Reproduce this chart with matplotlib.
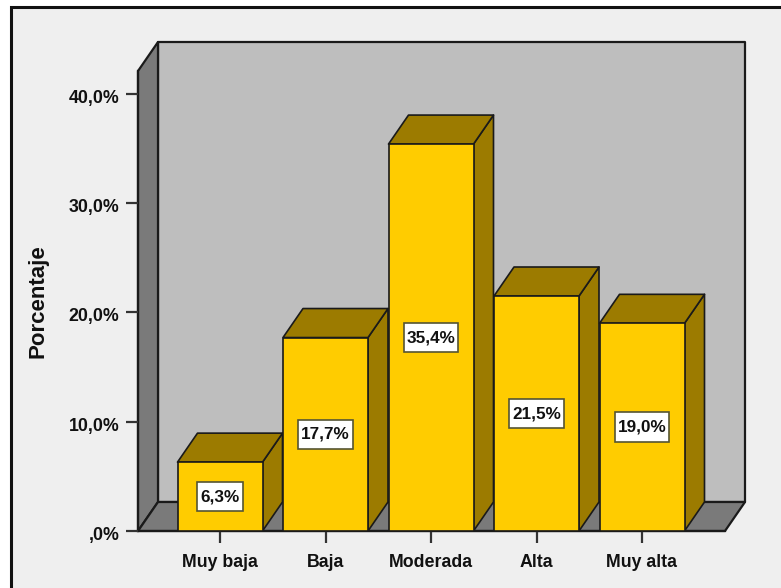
"""Bar chart with a fake 3D box, SPSS style: percentage per category."""
import matplotlib
matplotlib.use("Agg")
import matplotlib.pyplot as plt
from matplotlib.patches import Polygon, Rectangle
from matplotlib.path import Path
from matplotlib.transforms import ScaledTranslation

CATEGORIES = ["Muy baja", "Baja", "Moderada", "Alta", "Muy alta"]
PERCENTAGES = [6.3, 17.7, 35.4, 21.5, 19.0]
VALUE_LABELS = ["6,3%", "17,7%", "35,4%", "21,5%", "19,0%"]
Y_TICKS = [0, 10, 20, 30, 40]
Y_TICK_LABELS = [",0%", "10,0%", "20,0%", "30,0%", "40,0%"]

W, H = 781, 588
PLOT_LEFT, PLOT_RIGHT = 138, 725
PLOT_BOTTOM, PLOT_TOP = 531, 71
PX_PER_CAT = 105.5
PX_PER_PCT = 10.93
FIRST_CENTER = 220

BAR_W = 85 / PX_PER_CAT
DX = 20 / PX_PER_CAT
DY = 29 / PX_PER_PCT

EDGE = "#1a1a1a"
BAR_FRONT = "#ffcc00"
BAR_SIDE = "#9c7b00"
WALL = "#bebebe"
FLOOR = "#7a7a7a"
PANEL = "#efefef"

plt.rcParams["font.family"] = ["Liberation Sans", "DejaVu Sans"]

fig = plt.figure(figsize=(W / 100, H / 100), dpi=100, facecolor="white")
# panel runs off the right and bottom edges of the picture
fig.patches.append(Rectangle((10.5 / W, -0.02), 0.99, (H - 6.5) / H + 0.02,
                             transform=fig.transFigure, facecolor=PANEL,
                             edgecolor="#111111", linewidth=2.2, zorder=-1))

ax = fig.add_axes([PLOT_LEFT / W, 1 - PLOT_BOTTOM / H,
                   (PLOT_RIGHT - PLOT_LEFT) / W, (PLOT_BOTTOM - PLOT_TOP) / H])
ax.patch.set_visible(False)
ax.set_xlim((PLOT_LEFT - FIRST_CENTER) / PX_PER_CAT, (PLOT_RIGHT - FIRST_CENTER) / PX_PER_CAT)
ax.set_ylim(0, (PLOT_BOTTOM - PLOT_TOP) / PX_PER_PCT)
x0, x1 = ax.get_xlim()
y0, y1 = ax.get_ylim()


def poly(points, color, z, lw=1.6, edge=EDGE):
    ax.add_patch(Polygon(points, closed=True, facecolor=color, edgecolor=edge,
                         linewidth=lw, zorder=z, clip_on=False, joinstyle="round"))


def label_box(bx, by, bw, bh, mutation_size):
    # square box with more padding above and below than at the sides
    px, py = 0.17 * mutation_size, 0.42 * mutation_size
    return Path([(bx - px, by - py), (bx + bw + px, by - py), (bx + bw + px, by + bh + py),
                 (bx - px, by + bh + py), (bx - px, by - py)], closed=True)


# box: back wall, left wall, floor
poly([(x0 + DX, y0 + DY), (x1 + DX, y0 + DY), (x1 + DX, y1 + DY), (x0 + DX, y1 + DY)], WALL, 1)
poly([(x0, y0), (x0 + DX, y0 + DY), (x0 + DX, y1 + DY), (x0, y1)], FLOOR, 1.1)
poly([(x0, y0), (x1, y0), (x1 + DX, y0 + DY), (x0 + DX, y0 + DY)], FLOOR, 1.2)

for i, (val, lab) in enumerate(zip(PERCENTAGES, VALUE_LABELS)):
    l, r = i - BAR_W / 2, i + BAR_W / 2
    z = 2 + i
    poly([(r, 0), (r + DX, DY), (r + DX, val + DY), (r, val)], BAR_SIDE, z, lw=1.2)
    poly([(l, val), (r, val), (r + DX, val + DY), (l + DX, val + DY)], BAR_SIDE, z, lw=1.2)
    poly([(l, 0), (r, 0), (r, val), (l, val)], BAR_FRONT, z + 0.1, lw=1.2)
    ax.text(i, val / 2, lab, ha="center", va="center", fontsize=12.3, fontweight="bold",
            color="#111111", zorder=20,
            bbox=dict(boxstyle=label_box, facecolor="white", edgecolor="#555533", linewidth=1.2))

for side in ("top", "right"):
    ax.spines[side].set_visible(False)
for side in ("left", "bottom"):
    ax.spines[side].set_linewidth(1.6)
    ax.spines[side].set_color(EDGE)
    ax.spines[side].set_zorder(1.5)

ax.set_xticks(range(len(CATEGORIES)), CATEGORIES)
ax.set_yticks(Y_TICKS, Y_TICK_LABELS)
ax.tick_params(axis="both", length=8.5, width=1.6, color="#333333", labelsize=12.8,
               labelcolor="#111111")
ax.tick_params(axis="x", pad=8)
ax.tick_params(axis="y", pad=5)
for t in ax.get_xticklabels() + ax.get_yticklabels():
    t.set_fontweight("bold")
# y labels sit a little under their ticks in the original
down = ScaledTranslation(0, -2.5 / 100, fig.dpi_scale_trans)
for t in ax.get_yticklabels():
    t.set_transform(t.get_transform() + down)
ax.set_ylabel("Porcentaje", fontsize=16, fontweight="bold", color="#111111", labelpad=14.5)

fig.savefig("out.png", dpi=100, facecolor="white")
